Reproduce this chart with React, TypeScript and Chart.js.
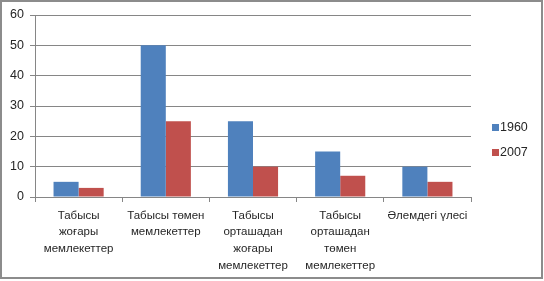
import React, { useEffect, useRef } from "react";
import { Chart, registerables } from "chart.js";

Chart.register(...registerables);

const categories: string[][] = [
  ["Табысы", "жоғары", "мемлекеттер"],
  ["Табысы төмен", "мемлекеттер"],
  ["Табысы", "орташадан", "жоғары", "мемлекеттер"],
  ["Табысы", "орташадан", "төмен", "мемлекеттер"],
  ["Әлемдегі үлесі"],
];
const seriesNames = ["1960", "2007"];
const values1960 = [5, 50, 25, 15, 10];
const values2007 = [3, 25, 10, 7, 5];
const yTicks = [0, 10, 20, 30, 40, 50, 60];

const FONT = "'Liberation Sans', Arial, sans-serif";
const TEXT = "#262626";
const GRID = "#868686";

const framePlugin = {
  id: "frameLegend",
  afterDraw(chart: any) {
    const ctx = chart.ctx;
    ctx.save();
    ctx.strokeStyle = "#8c8c8c";
    ctx.lineWidth = 2;
    ctx.strokeRect(1, 1, 541, 277);
    const x = chart.chartArea.right + 21;
    const ys = [127.5, 152.5];
    ctx.font = `12.5px ${FONT}`;
    ctx.textBaseline = "middle";
    ctx.textAlign = "left";
    chart.data.datasets.forEach((ds: any, i: number) => {
      ctx.fillStyle = ds.backgroundColor;
      ctx.fillRect(x, ys[i] - 3.5, 7, 7);
      ctx.fillStyle = TEXT;
      ctx.fillText(ds.label, x + 8, ys[i]);
    });
    ctx.restore();
  },
};

export default function App() {
  const ref = useRef<HTMLCanvasElement>(null);
  useEffect(() => {
    if (!ref.current) return;
    const chart = new Chart(ref.current, {
      type: "bar",
      data: {
        labels: categories,
        datasets: [
          { label: seriesNames[0], data: values1960, backgroundColor: "#4F81BD" },
          { label: seriesNames[1], data: values2007, backgroundColor: "#C0504D" },
        ],
      },
      options: {
        animation: false,
        responsive: false,
        devicePixelRatio: 1,
        layout: { padding: { left: 0, top: 15, right: 73, bottom: 0 } },
        datasets: { bar: { categoryPercentage: 0.575, barPercentage: 1 } },
        plugins: { legend: { display: false }, tooltip: { enabled: false } },
        scales: {
          x: {
            afterFit: (s: any) => { s.height = 84; },
            grid: { offset: true, drawOnChartArea: false, drawTicks: true, tickLength: 5, color: GRID },
            border: { color: GRID },
            ticks: { color: TEXT, font: { family: FONT, size: 11.5, lineHeight: 1.45 }, padding: 5, maxRotation: 0, autoSkip: false },
          },
          y: {
            min: 0,
            max: 60,
            afterFit: (s: any) => { s.width = 35; },
            afterBuildTicks: (s: any) => { s.ticks = yTicks.map((v) => ({ value: v })); },
            grid: { color: GRID, tickLength: 5 },
            border: { color: GRID },
            ticks: { color: TEXT, font: { family: FONT, size: 12.5 }, padding: 6 },
          },
        },
      },
      plugins: [framePlugin],
    });
    return () => chart.destroy();
  }, []);
  return (
    <div style={{ position: "fixed", left: 0, top: 0, width: 544, height: 281, background: "#fff" }}>
      <canvas ref={ref} width={544} height={281} style={{ width: 544, height: 281 }} />
    </div>
  );
}
